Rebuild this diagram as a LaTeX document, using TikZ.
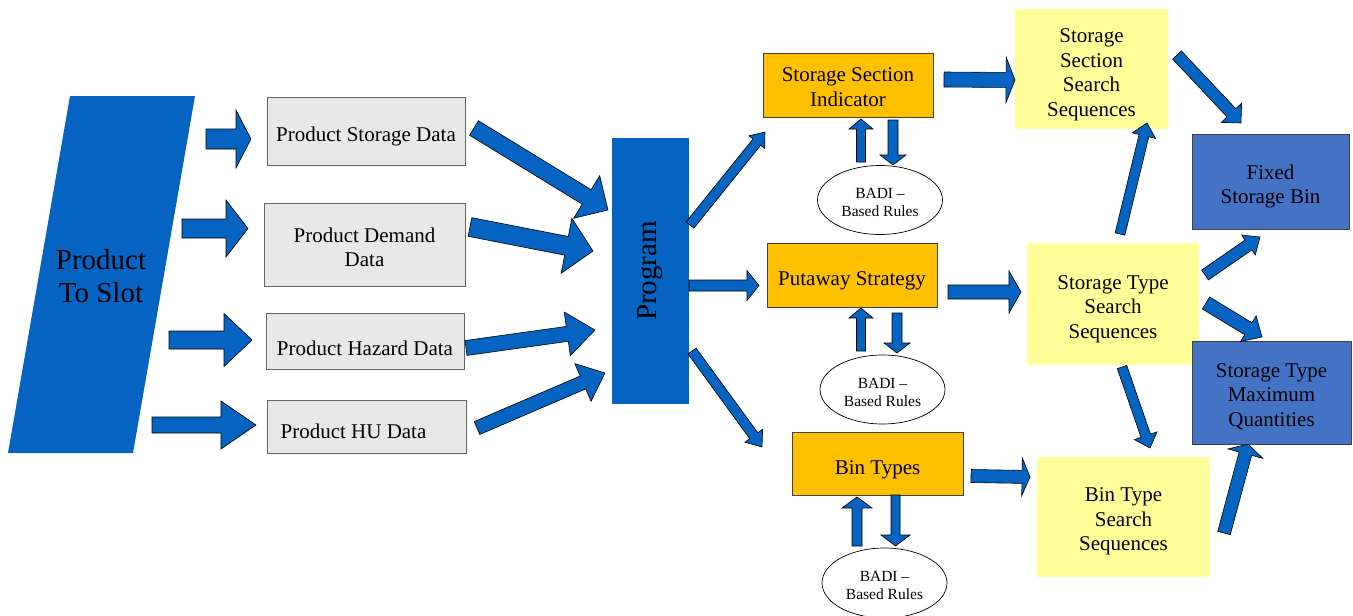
\documentclass[tikz,border=0pt]{standalone}
\usepackage{fontspec}
\setmainfont{Liberation Serif}
\usetikzlibrary{calc,shapes.geometric}
\definecolor{pblue}{RGB}{5,99,193}
\definecolor{grayfill}{RGB}{232,232,232}
\definecolor{orangefill}{RGB}{255,192,0}
\definecolor{yellowfill}{RGB}{255,255,153}
\definecolor{boxblue}{RGB}{68,114,196}
\newcommand\fsmain{\fontsize{21}{24.5}\selectfont}
\newcommand\fsbig{\fontsize{29}{33}\selectfont}
\newcommand\fssmall{\fontsize{15.5}{18}\selectfont}
\newcommand\dn[1]{\rule{0pt}{#1}}
\tikzset{
  base/.style={inner sep=0pt, align=center, font=\fsmain, text=black},
  tdown/.style={execute at begin node={\rule{0pt}{#1}}},
  graybox/.style={base, draw=black!60, fill=grayfill, line width=0.9pt},
  orangebox/.style={base, draw=black!75, fill=orangefill, line width=0.9pt},
  yellowbox/.style={base, fill=yellowfill},
  bluebox/.style={base, draw=black!75, fill=boxblue, line width=0.9pt},
  progbox/.style={base, fill=pblue, font=\fsbig},
  badi/.style={base, ellipse, draw=black, fill=white, line width=0.7pt, font=\fssmall},
  blockarrow/.style={fill=pblue, draw=black, line width=0.6pt, line join=miter},
}
% block arrow: tail, tip, half shaft width, half head width, head length
\newcommand\barrow[5]{%
  \coordinate (bA) at (#1);
  \coordinate (bB) at (#2);
  \coordinate (bC) at ($(bB)!#5pt!(bA)$);
  \filldraw[blockarrow] ($(bA)!#3pt!90:(bB)$) -- ($(bC)!#3pt!90:(bB)$) -- ($(bC)!#4pt!90:(bB)$)
     -- (bB) -- ($(bC)!#4pt!-90:(bB)$) -- ($(bC)!#3pt!-90:(bB)$) -- ($(bA)!#3pt!-90:(bB)$) -- cycle;
}
\begin{document}
\begin{tikzpicture}[x=1pt,y=-1pt]
\useasboundingbox (0,0) rectangle (1353,616);

% source parallelogram
\coordinate (s1) at (70,96);
\coordinate (s2) at (195,96);
\coordinate (s3) at (133,453);
\coordinate (s4) at (8,453);
\fill[pblue] (s1) -- (s2) -- (s3) -- (s4) -- cycle;
\node[base, font=\fsbig] (pts) at (101,276) {Product\\To Slot};

% gray data boxes
\node[graybox, tdown=26.5pt, minimum width=198pt, minimum height=68pt] (psd) at (366,131) {Product Storage Data};
\node[graybox, minimum width=201pt, minimum height=83pt] (pdd) at (364.5,244.5) {\dn{20.5pt}Product Demand\\Data};
\node[graybox, tdown=28.5pt, minimum width=198pt, minimum height=56pt] (phd) at (365,341) {Product Hazard Data};
\node[graybox, tdown=24.5pt, minimum width=199pt, minimum height=53pt] (phu) at (366.5,426.5) {\hspace*{-26pt}Product HU Data};

% program
\node[progbox, rotate=90, minimum width=266pt, minimum height=77pt] (prog) at (650.5,271) {Program};

% orange boxes
\node[orangebox, minimum width=170pt, minimum height=64pt] (ssi) at (848,85) {\dn{18.5pt}Storage Section\\Indicator};
\node[orangebox, tdown=26.5pt, minimum width=170pt, minimum height=64pt] (pws) at (852,275) {Putaway Strategy};
\node[orangebox, tdown=26.5pt, minimum width=171pt, minimum height=63pt] (bt) at (877.5,463.5) {Bin Types};

% BADI ellipses
\node[badi, minimum width=125pt, minimum height=69pt] (badi1) at (880,200) {\dn{15.5pt}BADI --\\Based Rules};
\node[badi, minimum width=125pt, minimum height=69pt] (badi2) at (882.5,389.5) {\dn{15.5pt}BADI --\\Based Rules};
\node[badi, minimum width=125pt, minimum height=70pt] (badi3) at (884.5,583) {\dn{15.5pt}BADI --\\Based Rules};

% yellow boxes
\node[yellowbox, minimum width=153pt, minimum height=120pt] (ssss) at (1091.5,69) {\dn{25.5pt}Storage\\Section\\Search\\Sequences};
\node[yellowbox, minimum width=172pt, minimum height=122pt] (stss) at (1113,304) {\dn{23.5pt}Storage Type\\Search\\Sequences};
\node[yellowbox, minimum width=173pt, minimum height=120pt] (btss) at (1123.5,517) {\dn{22.5pt}Bin Type\\Search\\Sequences};

% blue result boxes
\node[bluebox, minimum width=157pt, minimum height=95pt] (fsb) at (1270.5,181.5) {\dn{24.5pt}Fixed\\Storage Bin};
\node[bluebox, minimum width=159pt, minimum height=103pt] (stmq) at (1271.5,392.5) {\dn{21.5pt}Storage Type\\Maximum\\Quantities};

% arrow end points
\coordinate (l1s) at (206,139);   \coordinate (l1e) at (251,139);
\coordinate (l2s) at (182,228.5); \coordinate (l2e) at (248,228.5);
\coordinate (l3s) at (169,340);   \coordinate (l3e) at (252,340);
\coordinate (l4s) at (152,425);   \coordinate (l4e) at (256,425);
\coordinate (d1s) at (474,128);   \coordinate (d1e) at (608,210);
\coordinate (d2s) at (470,227);   \coordinate (d2e) at (593,251);
\coordinate (d3s) at (466,348);   \coordinate (d3e) at (595,330);
\coordinate (d4s) at (477,428);   \coordinate (d4e) at (605,373);
\coordinate (o1s) at (690,225);   \coordinate (o1e) at (765,132);
\coordinate (o2s) at (689,285.5); \coordinate (o2e) at (759,285.5);
\coordinate (o3s) at (692,351);   \coordinate (o3e) at (762,447);
\coordinate (u1s) at (861,162);   \coordinate (u1e) at (861,119);
\coordinate (w1s) at (893,120);   \coordinate (w1e) at (893,165);
\coordinate (u2s) at (861,351);   \coordinate (u2e) at (861,308);
\coordinate (w2s) at (897,313);   \coordinate (w2e) at (897,353);
\coordinate (u3s) at (857,546);   \coordinate (u3e) at (857,497);
\coordinate (w3s) at (895.5,495); \coordinate (w3e) at (895.5,546);
\coordinate (h1s) at (944,79.5);  \coordinate (h1e) at (1015,80);
\coordinate (h2s) at (948,292);   \coordinate (h2e) at (1021,292);
\coordinate (h3s) at (971,476);   \coordinate (h3e) at (1030,477);
\coordinate (r1s) at (1177,55);   \coordinate (r1e) at (1241,123);
\coordinate (r2s) at (1120,234);  \coordinate (r2e) at (1147,123);
\coordinate (r3s) at (1205,275);  \coordinate (r3e) at (1260,237);
\coordinate (r4s) at (1206,303);  \coordinate (r4e) at (1262,337);
\coordinate (r5s) at (1122,367);  \coordinate (r5e) at (1150,448);
\coordinate (r6s) at (1224,533);  \coordinate (r6e) at (1248,444);

% arrows
\barrow{l1s}{l1e}{10}{29}{15}
\barrow{l2s}{l2e}{9.5}{28.5}{22}
\barrow{l3s}{l3e}{9}{26.5}{28}
\barrow{l4s}{l4e}{8}{24}{35}
\barrow{d1s}{d1e}{8.5}{25}{25}
\barrow{d2s}{d2e}{9.5}{28}{27}
\barrow{d3s}{d3e}{7.5}{22}{28}
\barrow{d4s}{d4e}{7}{20.5}{24}
\barrow{o1s}{o1e}{5}{10}{13}
\barrow{o2s}{o2e}{5.5}{15}{12}
\barrow{o3s}{o3e}{5}{11}{14}
\barrow{u1s}{u1e}{4.5}{12}{10}
\barrow{w1s}{w1e}{5}{13}{10}
\barrow{u2s}{u2e}{4.5}{12}{10}
\barrow{w2s}{w2e}{5}{13}{10}
\barrow{u3s}{u3e}{5}{15}{11}
\barrow{w3s}{w3e}{4.5}{14.5}{11}
\barrow{h1s}{h1e}{7.5}{23}{9}
\barrow{h2s}{h2e}{7}{21}{12}
\barrow{h3s}{h3e}{6.5}{19}{8}
\barrow{r1s}{r1e}{6}{14}{14}
\barrow{r2s}{r2e}{5}{12}{13}
\barrow{r3s}{r3e}{6}{12}{14}
\barrow{r4s}{r4e}{7}{15}{16}
\barrow{r5s}{r5e}{5}{12}{13}
\barrow{r6s}{r6e}{6.5}{18}{10}
\end{tikzpicture}
\end{document}
